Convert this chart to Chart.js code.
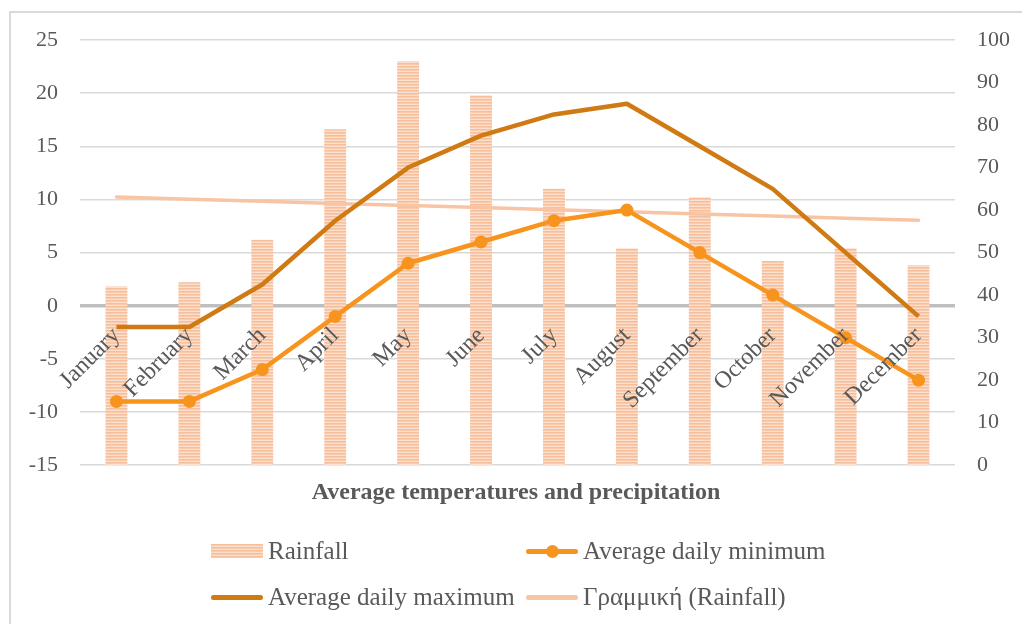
<!DOCTYPE html>
<html>
<head>
<meta charset="utf-8">
<script src="https://cdn.jsdelivr.net/npm/chart.js@4.4.1/dist/chart.umd.min.js"></script>
<style>
  html, body { margin: 0; padding: 0; background: #fff; overflow: hidden; }
  #wrap { position: relative; width: 1022px; height: 624px; overflow: hidden; background: #fff; }
  #frame { position: absolute; left: 9px; top: 11px; width: 1100px; height: 700px;
           border: 2px solid #d9d9d9; box-sizing: border-box; pointer-events: none; }
  #chart { position: absolute; left: 0; top: 0; }
  #legend { position: absolute; left: 211px; top: 528px; display: grid;
            grid-template-columns: 315px 300px; grid-auto-rows: 46px;
            font: 25px "Liberation Serif", serif; color: #595959; }
  .item { display: flex; align-items: center; white-space: nowrap; }
  .sw { position: relative; width: 52px; margin-right: 5px; flex: none; }
  .sw.bar { height: 14px;
            background: repeating-linear-gradient(to bottom, #f7be9a 0 1px, #f9cbae 1px 2px, #fce0cf 2px 3px); }
  .sw.line { height: 5px; border-radius: 3px; }
  .sw .dot { position: absolute; left: 20px; top: -4px; width: 13px; height: 13px; border-radius: 50%; }
</style>
</head>
<body>
<div id="wrap">
  <canvas id="chart" width="1022" height="624"></canvas>
  <div id="frame"></div>
  <div id="legend"></div>
</div>
<script>
// Monthly climate data
const months = ['January', 'February', 'March', 'April', 'May', 'June',
                'July', 'August', 'September', 'October', 'November', 'December'];
const rainfall = [42, 43, 53, 79, 95, 87, 65, 51, 63, 48, 51, 47];        // mm, right axis
const avgDailyMin = [-9, -9, -6, -1, 4, 6, 8, 9, 5, 1, -3, -7];           // °C, left axis
const avgDailyMax = [-2, -2, 2, 8, 13, 16, 18, 19, 15, 11, 5, -1];        // °C, left axis

const chartTitle = 'Average temperatures and precipitation';
const trendLabel = 'Γραμμική (Rainfall)';

// Least-squares linear trend of the rainfall series
function linearTrend(values) {
  const n = values.length;
  const xs = values.map((_, i) => i + 1);
  const mx = xs.reduce((a, b) => a + b, 0) / n;
  const my = values.reduce((a, b) => a + b, 0) / n;
  let sxy = 0, sxx = 0;
  xs.forEach((x, i) => { sxy += (x - mx) * (values[i] - my); sxx += (x - mx) * (x - mx); });
  const slope = sxy / sxx;
  return xs.map(x => my + slope * (x - mx));
}
const rainfallTrend = linearTrend(rainfall);

// Horizontal-stripe fill for the rainfall bars
function stripePattern() {
  const c = document.createElement('canvas');
  c.width = 4; c.height = 3;
  const g = c.getContext('2d');
  const rows = ['#f7be9a', '#f9cbae', '#fce0cf'];
  rows.forEach((col, i) => { g.fillStyle = col; g.fillRect(0, i, 4, 1); });
  return g.createPattern(c, 'repeat');
}

const FONT = '"Liberation Serif", "Times New Roman", serif';
const TEXT = '#595959';

const colors = {
  rain: '#f6bc98',
  min: '#f7941d',
  max: '#d07a14',
  trend: '#f9c4a3'
};

const ctx = document.getElementById('chart').getContext('2d');
const chart = new Chart(ctx, {
  data: {
    labels: months,
    datasets: [
      {
        type: 'bar', label: 'Rainfall', data: rainfall, yAxisID: 'y1',
        backgroundColor: stripePattern(), borderWidth: 0,
        barPercentage: 0.3, categoryPercentage: 1, order: 4,
        legendKind: 'bar', legendColor: colors.rain
      },
      {
        type: 'line', label: 'Average daily minimum', data: avgDailyMin, yAxisID: 'y',
        borderColor: colors.min, backgroundColor: colors.min, borderWidth: 4.5,
        pointRadius: 6.5, pointHoverRadius: 6.5, pointBorderWidth: 0,
        tension: 0, borderJoinStyle: 'round', order: 1,
        legendKind: 'marker', legendColor: colors.min
      },
      {
        type: 'line', label: 'Average daily maximum', data: avgDailyMax, yAxisID: 'y',
        borderColor: colors.max, backgroundColor: colors.max, borderWidth: 4.5,
        pointRadius: 0, tension: 0, borderJoinStyle: 'round', order: 2,
        legendKind: 'line', legendColor: colors.max
      },
      {
        type: 'line', label: trendLabel, data: rainfallTrend, yAxisID: 'y1',
        borderColor: colors.trend, borderWidth: 3.5, pointRadius: 0,
        tension: 0, order: 3, borderCapStyle: 'round',
        legendKind: 'line', legendColor: colors.trend
      }
    ]
  },
  options: {
    responsive: false,
    animation: false,
    events: [],
    layout: { padding: { left: 10, right: 0, top: 40, bottom: 117 } },
    scales: {
      x: {
        type: 'category',
        offset: true,
        position: { y: 0 },
        grid: { display: false, drawTicks: false },
        border: { display: false },
        ticks: {
          z: 1,
          color: TEXT, font: { family: FONT, size: 24 },
          minRotation: 45, maxRotation: 45, autoSkip: false, padding: 16
        },
        afterFit: s => { s.paddingLeft = 0; s.paddingRight = 0; }
      },
      y: {
        position: 'left', min: -15, max: 25,
        ticks: { stepSize: 5, color: TEXT, font: { family: FONT, size: 22 }, padding: 22 },
        grid: {
          drawTicks: false,
          color: c => (c.tick && c.tick.value === 0) ? '#bfbfbf' : '#d9d9d9',
          lineWidth: c => (c.tick && c.tick.value === 0) ? 3.5 : 1.5
        },
        border: { display: false },
        afterFit: s => { s.width = 70; s.paddingTop = 0; s.paddingBottom = 0; }
      },
      y1: {
        position: 'right', min: 0, max: 100,
        ticks: { stepSize: 10, color: TEXT, font: { family: FONT, size: 22 }, padding: 22 },
        grid: { display: false, drawTicks: false },
        border: { display: false },
        afterFit: s => { s.width = 67; s.paddingTop = 0; s.paddingBottom = 0; }
      }
    },
    plugins: {
      legend: { display: false },
      tooltip: { enabled: false },
      title: {
        display: true, text: chartTitle, position: 'bottom',
        color: TEXT, font: { family: FONT, size: 24, weight: 'bold' },
        padding: { top: 13, bottom: 0 }
      }
    }
  }
});

// Legend built from the chart's datasets, two per row
const legendEl = document.getElementById('legend');
chart.data.datasets.forEach(ds => {
  const item = document.createElement('div');
  item.className = 'item';
  const sw = document.createElement('span');
  if (ds.legendKind === 'bar') {
    sw.className = 'sw bar';
  } else {
    sw.className = 'sw line';
    sw.style.background = ds.legendColor;
    if (ds.legendKind === 'marker') {
      const dot = document.createElement('span');
      dot.className = 'dot';
      dot.style.background = ds.legendColor;
      sw.appendChild(dot);
    }
  }
  const txt = document.createElement('span');
  txt.textContent = ds.label;
  item.appendChild(sw);
  item.appendChild(txt);
  legendEl.appendChild(item);
});
</script>
</body>
</html>
